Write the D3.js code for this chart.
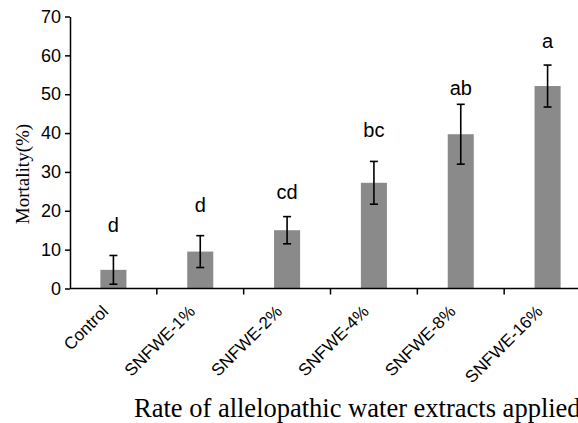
<!DOCTYPE html>
<html>
<head>
<meta charset="utf-8">
<script src="https://cdn.jsdelivr.net/npm/d3@7"></script>
<style>
  body { margin: 0; background: #fff; }
  svg { display: block; }
</style>
</head>
<body>
<div id="chart"></div>
<script>
// Data
var treatments = ["Control", "SNFWE-1%", "SNFWE-2%", "SNFWE-4%", "SNFWE-8%", "SNFWE-16%"];
var mortality = [4.8, 9.5, 15.0, 27.2, 39.7, 52.1];
var stdErr = [3.7, 4.1, 3.5, 5.5, 7.7, 5.4];
var groups = ["d", "d", "cd", "bc", "ab", "a"];
var groupLevel = [14.5, 19.7, 23.0, 39.0, 49.8, 61.9];
var yTicks = [0, 10, 20, 30, 40, 50, 60, 70];

// Size
var margin = { top: 16.5, left: 70 },
    width = 521,
    height = 272;

var svg = d3.select("#chart")
    .append("svg")
    .attr("width", 578)
    .attr("height", 423)
    .append("g")
    .attr("transform", "translate(" + margin.left + "," + margin.top + ")");

// Scales
var x = d3.scaleBand()
    .domain(treatments)
    .range([0, width])
    .padding(0);

var y = d3.scaleLinear()
    .domain([0, 70])
    .range([height, 0]);

var barW = x.bandwidth() * 0.3;

// Bars
svg.selectAll("rect.bar")
    .data(treatments)
    .enter()
    .append("rect")
    .attr("class", "bar")
    .attr("x", function (d) { return x(d) + x.bandwidth() / 2 - barW / 2; })
    .attr("y", function (d, i) { return y(mortality[i]); })
    .attr("width", barW)
    .attr("height", function (d, i) { return height - y(mortality[i]); })
    .style("fill", "#8a8a8a");

// Error bars
var err = svg.selectAll("g.err")
    .data(treatments)
    .enter()
    .append("g")
    .attr("class", "err")
    .attr("stroke", "#000")
    .attr("stroke-width", 1.6);

err.append("line")
    .attr("x1", function (d) { return x(d) + x.bandwidth() / 2; })
    .attr("x2", function (d) { return x(d) + x.bandwidth() / 2; })
    .attr("y1", function (d, i) { return y(mortality[i] - stdErr[i]); })
    .attr("y2", function (d, i) { return y(mortality[i] + stdErr[i]); });

err.each(function (d, i) {
    var g = d3.select(this), cx = x(d) + x.bandwidth() / 2;
    [mortality[i] - stdErr[i], mortality[i] + stdErr[i]].forEach(function (v) {
        g.append("line")
            .attr("x1", cx - 4).attr("x2", cx + 4)
            .attr("y1", y(v)).attr("y2", y(v));
    });
});

// Significance letters
svg.selectAll("text.grp")
    .data(groups)
    .enter()
    .append("text")
    .attr("class", "grp")
    .attr("x", function (d, i) { return x(treatments[i]) + x.bandwidth() / 2; })
    .attr("y", function (d, i) { return y(groupLevel[i]); })
    .attr("text-anchor", "middle")
    .style("font-family", "Liberation Sans, Arial, sans-serif")
    .style("font-size", "20px")
    .text(function (d) { return d; });

// Y axis
var yAxis = svg.append("g")
    .call(d3.axisLeft(y).tickValues(yTicks).tickSize(5).tickSizeOuter(0));
yAxis.select(".domain").attr("stroke-width", 1.5);
yAxis.selectAll(".tick line").attr("stroke-width", 1.5);
yAxis.selectAll(".tick text")
    .attr("x", -9)
    .style("font-family", "Liberation Sans, Arial, sans-serif")
    .style("font-size", "18px")
    .style("fill", "#000");

// X axis: line plus ticks between categories
var xAxis = svg.append("g")
    .attr("transform", "translate(0," + height + ")");
xAxis.append("line")
    .attr("x1", 0).attr("x2", width)
    .attr("stroke", "#000").attr("stroke-width", 1.5);
xAxis.selectAll("line.tk")
    .data(treatments.slice(1))
    .enter()
    .append("line")
    .attr("class", "tk")
    .attr("x1", function (d) { return x(d); })
    .attr("x2", function (d) { return x(d); })
    .attr("y1", 0).attr("y2", 6)
    .attr("stroke", "#000").attr("stroke-width", 1.5);

xAxis.selectAll("text.cat")
    .data(treatments)
    .enter()
    .append("text")
    .attr("class", "cat")
    .attr("text-anchor", "end")
    .attr("transform", function (d) {
        return "translate(" + (x(d) + x.bandwidth() / 2 - 4) + ",24) rotate(-45)";
    })
    .style("font-family", "Liberation Sans, Arial, sans-serif")
    .style("font-size", "17px")
    .text(function (d) { return d; });

// Axis titles
svg.append("text")
    .attr("transform", "rotate(-90)")
    .attr("x", -(174 - margin.top))
    .attr("y", -margin.left + 29)
    .attr("text-anchor", "middle")
    .style("font-family", "Liberation Serif, Times New Roman, serif")
    .style("font-size", "19px")
    .text("Mortality(%)");

svg.append("text")
    .attr("x", 134 - margin.left)
    .attr("y", 417 - margin.top)
    .style("font-family", "Liberation Serif, Times New Roman, serif")
    .style("font-size", "26.5px")
    .text("Rate of allelopathic water extracts applied");
</script>
</body>
</html>
